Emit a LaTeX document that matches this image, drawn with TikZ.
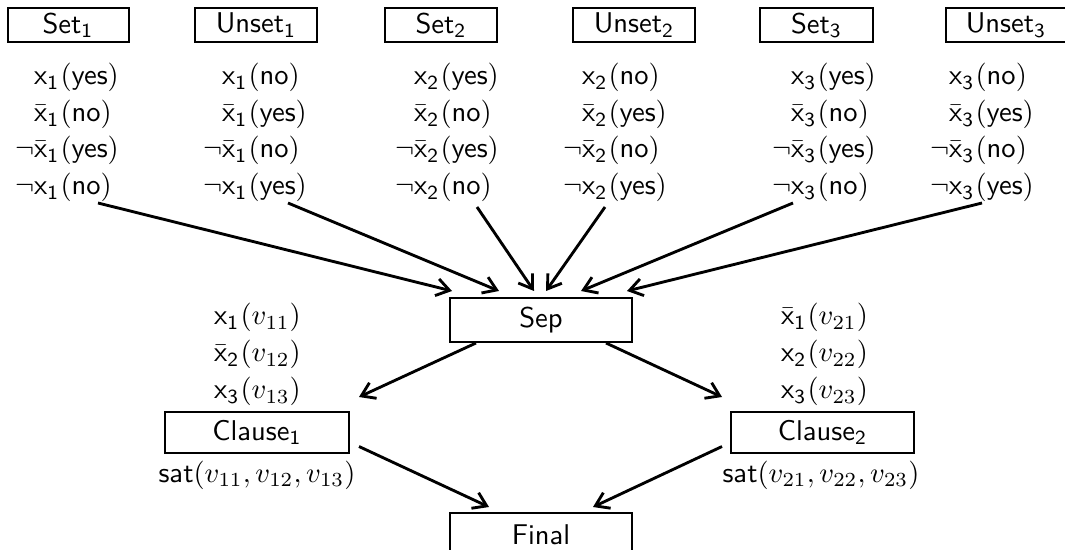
\documentclass[tikz,border=0pt]{standalone}
\usetikzlibrary{arrows.meta}
\newcommand\litcol[5]{%
 \node[lr] (#5a) at (#1,85) {$\mathsf{x}_{\mathsf{#2}}$};
 \node[ll] (#5A) at (#1,85) {$(\mathsf{#3})$};
 \node[lr] (#5b) at (#1,122) {$\bar{\mathsf{x}}_{\mathsf{#2}}$};
 \node[ll] (#5B) at (#1,122) {$(\mathsf{#4})$};
 \node[lr] (#5c) at (#1,158) {$\neg\bar{\mathsf{x}}_{\mathsf{#2}}$};
 \node[ll] (#5C) at (#1,158) {$(\mathsf{#3})$};
 \node[lr] (#5d) at (#1,195) {$\neg\mathsf{x}_{\mathsf{#2}}$};
 \node[ll] (#5D) at (#1,195) {$(\mathsf{#4})$};
}
\begin{document}
\begin{tikzpicture}[x=0.35pt,y=-0.35pt,font=\sffamily,
  box/.style={draw,line width=0.7pt,inner sep=0pt},
  topbox/.style={box,minimum height=11.9pt},
  lr/.style={anchor=base east,inner sep=0pt},
  ll/.style={anchor=base west,inner sep=0pt},
  arr/.style={line width=1pt,-{Straight Barb[length=4.5pt,width=6pt,line width=1pt]}}]
\useasboundingbox (0,0) rectangle (1065,550);
% top boxes
\node[topbox,minimum width=42.35pt] (set1) at (68,25) {Set$_{\mathsf{1}}$};
\node[topbox,minimum width=42.7pt] (unset1) at (256,25) {Unset$_{\mathsf{1}}$};
\node[topbox,minimum width=39.2pt] (set2) at (441,25) {Set$_{\mathsf{2}}$};
\node[topbox,minimum width=42.7pt] (unset2) at (634,25) {Unset$_{\mathsf{2}}$};
\node[topbox,minimum width=39.55pt] (set3) at (816.5,25) {Set$_{\mathsf{3}}$};
\node[topbox,minimum width=42pt] (unset3) at (1006,25) {Unset$_{\mathsf{3}}$};
% literal columns
\litcol{60}{1}{yes}{no}{p}
\litcol{248}{1}{no}{yes}{q}
\litcol{440}{2}{yes}{no}{r}
\litcol{608}{2}{no}{yes}{s}
\litcol{817}{3}{yes}{no}{t}
\litcol{975}{3}{no}{yes}{u}
% middle
\node[box,minimum width=63.7pt,minimum height=15.4pt] (sep) at (541,320) {Sep};
\node[box,minimum width=64.4pt,minimum height=14.35pt] (cl1) at (257,432.5) {Clause$_{\mathsf{1}}$};
\node[box,minimum width=64.05pt,minimum height=14.35pt] (cl2) at (822.5,432.5) {Clause$_{\mathsf{2}}$};
\node[box,minimum width=63.7pt,minimum height=15.4pt] (final) at (541,535) {Final};
% clause labels
\node[lr] (k1a) at (240,325) {$\mathsf{x}_{\mathsf{1}}$};
\node[ll] (k1A) at (240,325) {$(v_{11})$};
\node[lr] (k1b) at (240,362) {$\bar{\mathsf{x}}_{\mathsf{2}}$};
\node[ll] (k1B) at (240,362) {$(v_{12})$};
\node[lr] (k1c) at (240,399) {$\mathsf{x}_{\mathsf{3}}$};
\node[ll] (k1C) at (240,399) {$(v_{13})$};
\node[lr] (k2a) at (807,325) {$\bar{\mathsf{x}}_{\mathsf{1}}$};
\node[ll] (k2A) at (807,325) {$(v_{21})$};
\node[lr] (k2b) at (807,362) {$\mathsf{x}_{\mathsf{2}}$};
\node[ll] (k2B) at (807,362) {$(v_{22})$};
\node[lr] (k2c) at (807,399) {$\mathsf{x}_{\mathsf{3}}$};
\node[ll] (k2C) at (807,399) {$(v_{23})$};
\node[anchor=base,inner sep=0pt] (sat1) at (257,482) {$\mathsf{sat}(v_{11},v_{12},v_{13})$};
\node[anchor=base,inner sep=0pt] (sat2) at (821,482) {$\mathsf{sat}(v_{21},v_{22},v_{23})$};
% arrow starts
\coordinate (a1) at (98,203);
\coordinate (a2) at (288,203);
\coordinate (a3) at (477,207);
\coordinate (a4) at (605,207);
\coordinate (a5) at (793,203);
\coordinate (a6) at (982,203);
\draw[arr] (a1) -- ([shift={(3,-6)}]sep.north west);
\draw[arr] (a2) -- ([shift={(50,-6)}]sep.north west);
\draw[arr] (a3) -- ([shift={(85,-6)}]sep.north west);
\draw[arr] (a4) -- ([shift={(97,-6)}]sep.north west);
\draw[arr] (a5) -- ([shift={(132,-6)}]sep.north west);
\draw[arr] (a6) -- ([shift={(178,-6)}]sep.north west);
\draw[arr] ([shift={(27,0)}]sep.south west) -- ([shift={(9,-14)}]cl1.north east);
\draw[arr] ([shift={(-27,0)}]sep.south east) -- ([shift={(-8,-14)}]cl2.north west);
\draw[arr] ([shift={(9,14)}]cl1.east) -- ([shift={(40,-5)}]final.north west);
\draw[arr] ([shift={(-8,14)}]cl2.west) -- ([shift={(-40,-5)}]final.north east);
\end{tikzpicture}
\end{document}
